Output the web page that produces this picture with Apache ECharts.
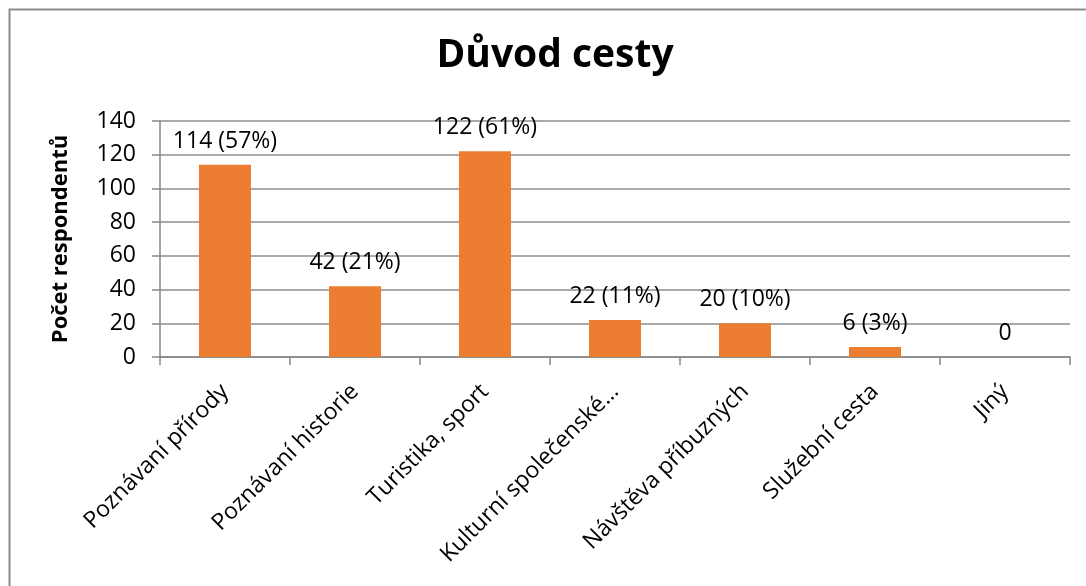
<!DOCTYPE html>
<html>
<head>
<meta charset="utf-8">
<script src="https://cdn.jsdelivr.net/npm/echarts@6/dist/echarts.min.js"></script>
<style>
  html, body { margin: 0; padding: 0; background: #fff; }
  #chart { width: 1086px; height: 586px; }
</style>
</head>
<body>
<div id="chart"></div>
<script>
// Reasons for the trip: respondent counts per category
const categories = [
  'Poznávaní přírody',
  'Poznávaní historie',
  'Turistika, sport',
  'Kulturní společenské…',
  'Návštěva příbuzných',
  'Služební cesta',
  'Jiný'
];
const counts = [114, 42, 122, 22, 20, 6, 0];
const percents = [57, 21, 61, 11, 10, 3, null];
const yTicks = [0, 20, 40, 60, 80, 100, 120, 140];

const FONT = '"Open Sans", "DejaVu Sans", sans-serif';

const chart = echarts.init(document.getElementById('chart'), null, { renderer: 'canvas' });

chart.setOption({
  backgroundColor: '#ffffff',
  animation: false,
  title: {
    text: 'Důvod cesty',
    left: 550,
    textAlign: 'center',
    top: 31,
    textStyle: { fontFamily: FONT, fontWeight: 'bold', fontSize: 39, color: '#000' }
  },
  graphic: [{
    type: 'rect',
    shape: { x: 9.5, y: 9.5, width: 1200, height: 700 },
    style: { fill: 'none', stroke: '#8c8c8c', lineWidth: 2 },
    silent: true,
    z: -1
  }],
  grid: { left: 160, right: 16, top: 121, bottom: 229, containLabel: false },
  xAxis: {
    type: 'category',
    data: categories,
    boundaryGap: true,
    axisLine: { lineStyle: { color: '#868686', width: 1.5 } },
    axisTick: { show: true, alignWithLabel: false, length: 8, lineStyle: { color: '#868686', width: 1.5 } },
    axisLabel: {
      rotate: 45,
      margin: 31,
      interval: 0,
      color: '#000',
      fontFamily: FONT,
      fontSize: 23
    }
  },
  yAxis: {
    type: 'value',
    min: yTicks[0],
    max: yTicks[yTicks.length - 1],
    interval: 20,
    name: 'Počet respondentů',
    nameLocation: 'middle',
    nameGap: 88,
    nameRotate: 90,
    nameTextStyle: { fontFamily: FONT, fontWeight: 'bold', fontSize: 22, color: '#000' },
    axisLine: { show: true, lineStyle: { color: '#868686', width: 1.5 } },
    axisTick: { show: true, inside: false, length: 8, lineStyle: { color: '#868686', width: 1.5 } },
    axisLabel: { margin: 24, color: '#000', fontFamily: FONT, fontSize: 23 },
    splitLine: { show: true, lineStyle: { color: '#8e8e8e', width: 1.5 } }
  },
  series: [{
    type: 'bar',
    data: counts,
    barWidth: '40%',
    itemStyle: { color: '#ED7D31' },
    label: {
      show: true,
      position: 'top',
      distance: 12,
      color: '#000',
      fontFamily: FONT,
      fontSize: 23,
      formatter: function (p) {
        const pct = percents[p.dataIndex];
        return pct === null ? String(p.value) : p.value + ' (' + pct + '%)';
      }
    }
  }]
});
</script>
</body>
</html>
